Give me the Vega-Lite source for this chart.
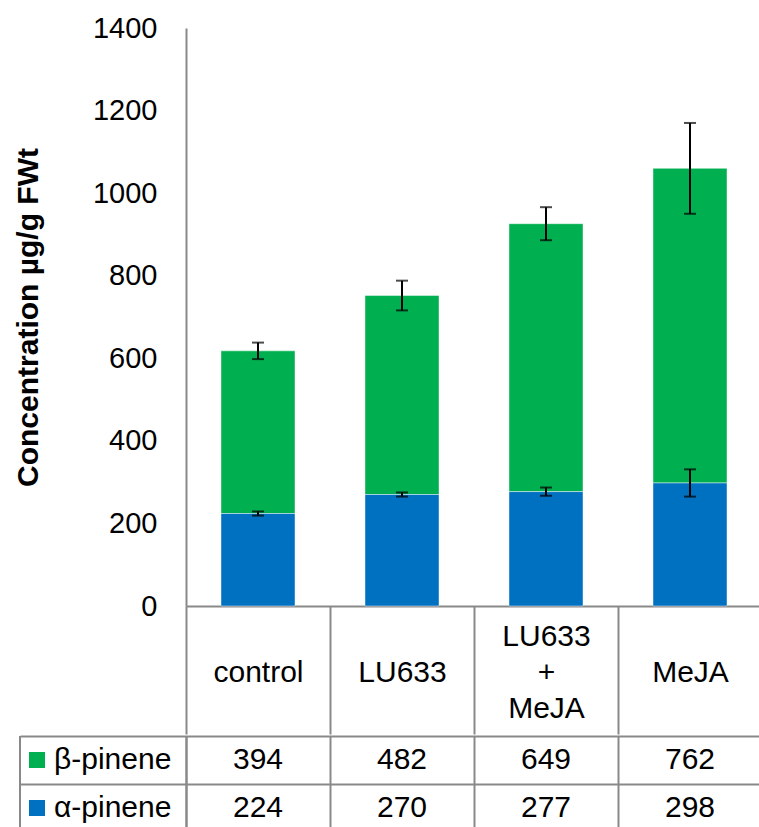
{
  "$schema": "https://vega.github.io/schema/vega-lite/v6.json",
  "padding": {"left": 13, "top": 14, "right": 0, "bottom": 0},
  "spacing": 0,
  "config": {
    "font": "Liberation Sans",
    "view": {"stroke": null},
    "axis": {"labelFont": "Liberation Sans", "titleFont": "Liberation Sans"}
  },
  "datasets": {
    "conc": [
      {"group": "control", "compound": "β-pinene", "value": 394, "err": 20},
      {"group": "LU633", "compound": "β-pinene", "value": 482, "err": 36},
      {"group": "LU633 + MeJA", "compound": "β-pinene", "value": 649, "err": 40},
      {"group": "MeJA", "compound": "β-pinene", "value": 762, "err": 110},
      {"group": "control", "compound": "α-pinene", "value": 224, "err": 5},
      {"group": "LU633", "compound": "α-pinene", "value": 270, "err": 5},
      {"group": "LU633 + MeJA", "compound": "α-pinene", "value": 277, "err": 10},
      {"group": "MeJA", "compound": "α-pinene", "value": 298, "err": 33}
    ],
    "rows": [
      {"compound": "β-pinene"},
      {"compound": "α-pinene"}
    ]
  },
  "vconcat": [
    {
      "width": 576,
      "height": 578,
      "data": {"name": "conc"},
      "layer": [
        {
          "mark": {"type": "bar", "width": {"band": 0.514}, "stroke": "white", "strokeOpacity": 0.45, "strokeWidth": 1},
          "encoding": {
            "x": {
              "field": "group", "type": "nominal",
              "sort": ["control", "LU633", "LU633 + MeJA", "MeJA"],
              "scale": {"paddingInner": 0, "paddingOuter": 0},
              "axis": {
                "title": null,
                "domainColor": "#898989", "domainWidth": 2,
                "tickBand": "extent",
                "tickSize": 128, "tickColor": "#898989", "tickWidth": 2,
                "labelFontSize": 30, "labelColor": "black", "labelAngle": 0,
                "labelBaseline": "middle", "labelPadding": -98,
                "labelLineHeight": 36,
                "labelExpr": "datum.label == 'LU633 + MeJA' ? ['LU633', '+', 'MeJA'] : ['', datum.label, '']"
              }
            },
            "y": {
              "field": "value", "type": "quantitative", "stack": "zero",
              "title": "Concentration µg/g FWt",
              "scale": {"domain": [0, 1400]},
              "axis": {
                "values": [0, 200, 400, 600, 800, 1000, 1200, 1400],
                "format": "d",
                "grid": false, "ticks": false,
                "domainColor": "#898989", "domainWidth": 2,
                "labelFontSize": 29, "labelColor": "black", "labelPadding": 29,
                "titleFontSize": 30, "titleFontWeight": "bold", "titleColor": "black", "titlePadding": 49
              }
            },
            "color": {
              "field": "compound", "type": "nominal",
              "scale": {"domain": ["β-pinene", "α-pinene"], "range": ["#00B050", "#0070C0"]},
              "legend": null
            },
            "order": {"field": "compound", "sort": "ascending"}
          }
        },
        {
          "transform": [
            {"stack": "value", "groupby": ["group"], "sort": [{"field": "compound", "order": "ascending"}], "as": ["v0", "v1"]}
          ],
          "mark": {
            "type": "errorbar",
            "color": "black",
            "rule": {"strokeWidth": 2, "color": "black"},
            "ticks": {"size": 12, "thickness": 2, "color": "black"}
          },
          "encoding": {
            "x": {"field": "group", "type": "nominal", "sort": ["control", "LU633", "LU633 + MeJA", "MeJA"]},
            "y": {"field": "v1", "type": "quantitative", "title": "Concentration µg/g FWt", "scale": {"domain": [0, 1400]}},
            "yError": {"field": "err"}
          }
        }
      ]
    },
    {
      "width": 576,
      "height": 96,
      "layer": [
        {
          "data": {"name": "conc"},
          "mark": {"type": "text", "fontSize": 30, "color": "black", "baseline": "middle"},
          "encoding": {
            "x": {
              "field": "group", "type": "nominal",
              "sort": ["control", "LU633", "LU633 + MeJA", "MeJA"],
              "scale": {"paddingInner": 0, "paddingOuter": 0},
              "axis": {
                "title": null, "labels": false, "ticks": false, "domain": false,
                "grid": true, "gridColor": "#898989", "gridWidth": 2,
                "tickBand": "extent"
              }
            },
            "y": {
              "field": "compound", "type": "nominal",
              "sort": ["β-pinene", "α-pinene"],
              "scale": {"paddingInner": 0, "paddingOuter": 0},
              "axis": {
                "title": null, "labels": false,
                "domainColor": "#898989", "domainWidth": 2,
                "tickSize": 166, "tickColor": "#898989", "tickWidth": 2,
                "grid": true, "gridColor": "#898989", "gridWidth": 2,
                "tickBand": "extent"
              }
            },
            "text": {"field": "value", "type": "quantitative"}
          }
        },
        {
          "data": {"name": "rows"},
          "layer": [
            {
              "mark": {"type": "rule", "color": "#898989", "strokeWidth": 2},
              "encoding": {
                "x": {"datum": "border", "type": "nominal", "scale": {"type": "point", "domain": ["border", "key", "label"], "range": [-166, -132], "padding": 0}, "axis": null}
              }
            },
            {
              "mark": {"type": "point", "shape": "square", "filled": true, "size": 256, "opacity": 1, "strokeWidth": 0},
              "encoding": {
                "x": {"datum": "key", "type": "nominal", "scale": {"type": "point", "domain": ["border", "key", "label"], "range": [-166, -132], "padding": 0}, "axis": null},
                "y": {"field": "compound", "type": "nominal", "sort": ["β-pinene", "α-pinene"]},
                "color": {"field": "compound", "type": "nominal", "legend": null}
              }
            },
            {
              "mark": {"type": "text", "align": "left", "baseline": "middle", "fontSize": 30, "color": "black"},
              "encoding": {
                "x": {"datum": "label", "type": "nominal", "scale": {"type": "point", "domain": ["border", "key", "label"], "range": [-166, -132], "padding": 0}, "axis": null},
                "y": {"field": "compound", "type": "nominal", "sort": ["β-pinene", "α-pinene"]},
                "text": {"field": "compound"}
              }
            }
          ]
        }
      ],
      "resolve": {"scale": {"x": "independent"}, "axis": {"x": "independent"}}
    }
  ]
}
